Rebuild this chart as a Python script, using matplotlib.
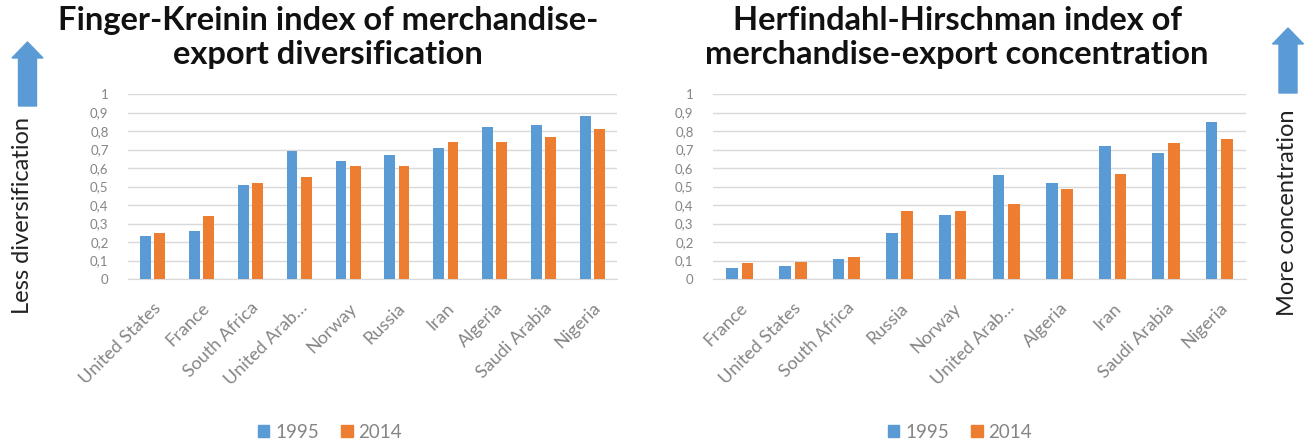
#!/usr/bin/env python3
"""Finger-Kreinin vs Herfindahl-Hirschman export indices, 1995 vs 2014."""

import matplotlib
matplotlib.use('Agg')
import matplotlib.pyplot as plt
import numpy as np
from matplotlib.patches import FancyArrow, Patch
from matplotlib.ticker import FuncFormatter

plt.rcParams['font.family'] = ['Lato', 'DejaVu Sans']

fk_countries = ["United States", "France", "South Africa", "United Arab\u2026", "Norway",
                "Russia", "Iran", "Algeria", "Saudi Arabia", "Nigeria"]
fk_1995 = [0.23, 0.26, 0.51, 0.69, 0.64, 0.67, 0.71, 0.82, 0.83, 0.88]
fk_2014 = [0.25, 0.34, 0.52, 0.55, 0.61, 0.61, 0.74, 0.74, 0.77, 0.81]

hh_countries = ["France", "United States", "South Africa", "Russia", "Norway",
                "United Arab\u2026", "Algeria", "Iran", "Saudi Arabia", "Nigeria"]
hh_1995 = [0.057, 0.072, 0.108, 0.25, 0.348, 0.56, 0.52, 0.72, 0.683, 0.85]
hh_2014 = [0.088, 0.092, 0.117, 0.366, 0.366, 0.405, 0.488, 0.57, 0.737, 0.757]

years = ["1995", "2014"]
BLUE = "#5B9BD5"
ORANGE = "#ED7D31"
GRID = "#D9D9D9"
TICK = "#858585"

W, H = 1306, 443
fig = plt.figure(figsize=(W / 100, H / 100), dpi=100)


def px_axes(x0, x1, y_top, y_bot):
    return fig.add_axes([x0 / W, 1 - y_bot / H, (x1 - x0) / W, (y_bot - y_top) / H])


def draw_panel(ax, countries, v1, v2):
    x = np.arange(len(countries))
    width = 0.22
    ax.bar(x - 0.145, v1, width, color=BLUE, zorder=3)
    ax.bar(x + 0.145, v2, width, color=ORANGE, zorder=3)
    ax.set_xlim(-0.5, len(countries) - 0.5)
    ax.set_ylim(0, 1)
    ax.set_yticks(np.arange(0, 1.01, 0.1))
    ax.yaxis.set_major_formatter(FuncFormatter(
        lambda v, p: "0" if abs(v) < 1e-9 else ("1" if abs(v - 1) < 1e-9 else f"{v:.1f}".replace(".", ","))))
    ax.grid(axis="y", color=GRID, linewidth=1, zorder=0)
    ax.set_xticks(x)
    ax.set_xticklabels(countries, rotation=45, ha="right", rotation_mode="anchor",
                       fontsize=13, color=TICK)
    ax.tick_params(axis="y", length=0, pad=14, labelsize=9.5, labelcolor=TICK)
    ax.tick_params(axis="x", length=0, pad=15)
    for s in ["top", "right", "left"]:
        ax.spines[s].set_visible(False)
    ax.spines["bottom"].set_color(GRID)
    ax.set_facecolor("none")


ax1 = px_axes(128, 617, 94, 279)
draw_panel(ax1, fk_countries, fk_1995, fk_2014)
ax2 = px_axes(713, 1246, 94, 279)
draw_panel(ax2, hh_countries, hh_1995, hh_2014)

title_kw = dict(ha="center", va="baseline", fontsize=23.5, fontweight="bold", color="#111111")
fig.text(328 / W, 1 - 30 / H, "Finger-Kreinin index of merchandise-", **title_kw)
fig.text(328 / W, 1 - 64 / H, "export diversification", **title_kw)
fig.text(957 / W, 1 - 30 / H, "Herfindahl-Hirschman index of", **title_kw)
fig.text(957 / W, 1 - 64 / H, "merchandise-export concentration", **title_kw)

# side arrows and labels
def arrow(cx, y_bot, y_top):
    a = FancyArrow(cx / 100, (H - y_bot) / 100, 0, (y_bot - y_top) / 100,
                   width=0.18, head_width=0.31, head_length=0.16,
                   length_includes_head=True, color=BLUE,
                   transform=fig.dpi_scale_trans)
    fig.patches.append(a)

arrow(27.5, 106, 42)
arrow(1288, 93, 28)
fig.text(23 / W, 1 - 215 / H, "Less diversification", rotation=90,
         ha="center", va="center", fontsize=17, color="#222222")
fig.text(1287 / W, 1 - 213 / H, "More concentration", rotation=90,
         ha="center", va="center", fontsize=17, color="#222222")

handles = [Patch(color=BLUE), Patch(color=ORANGE)]
for cx in (330, 960):
    fig.legend(handles, years, loc="center", bbox_to_anchor=(cx / W, 1 - 432 / H),
               ncol=2, frameon=False, fontsize=13.5, labelcolor=TICK,
               handlelength=0.6, handleheight=0.6, handletextpad=0.3, columnspacing=1.2)

fig.savefig("out.png", dpi=100)
plt.close(fig)
